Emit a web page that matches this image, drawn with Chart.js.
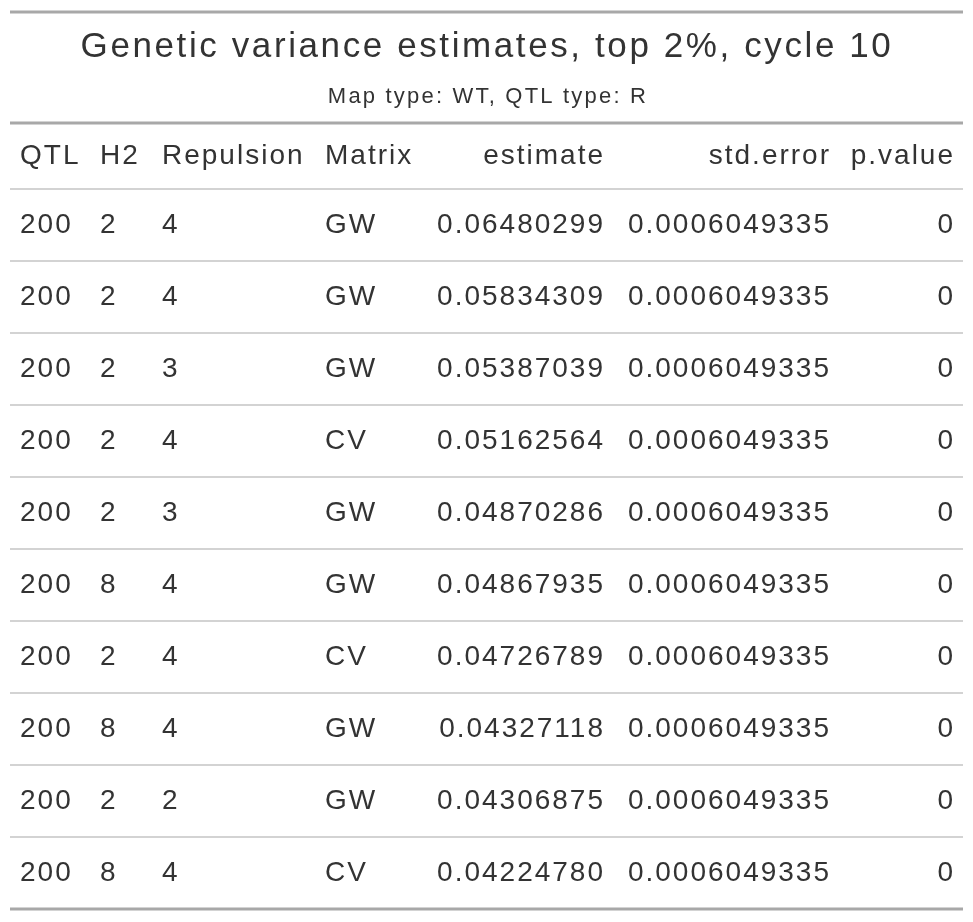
<!DOCTYPE html>
<html><head><meta charset="utf-8">
<script src="https://cdn.jsdelivr.net/npm/chart.js@4"></script>
<style>html,body{margin:0;background:#fff}#wrap{width:973px;height:922px}</style>
</head><body><div id="wrap"><canvas id="tbl"></canvas></div>
<script>
const title = "Genetic variance estimates, top 2%, cycle 10";
const subtitle = "Map type: WT, QTL type: R";
const columns = ["QTL", "H2", "Repulsion", "Matrix", "estimate", "std.error", "p.value"];
const qtl = [200, 200, 200, 200, 200, 200, 200, 200, 200, 200];
const h2 = [2, 2, 2, 2, 2, 8, 2, 8, 2, 8];
const repulsion = [4, 4, 3, 4, 3, 4, 4, 4, 2, 4];
const matrix = ["GW", "GW", "GW", "CV", "GW", "GW", "CV", "GW", "GW", "CV"];
const estimate = ["0.06480299", "0.05834309", "0.05387039", "0.05162564", "0.04870286",
  "0.04867935", "0.04726789", "0.04327118", "0.04306875", "0.04224780"];
const stdError = ["0.0006049335", "0.0006049335", "0.0006049335", "0.0006049335", "0.0006049335",
  "0.0006049335", "0.0006049335", "0.0006049335", "0.0006049335", "0.0006049335"];
const pValue = [0, 0, 0, 0, 0, 0, 0, 0, 0, 0];

// column anchors (x) and alignment
const colX = [20, 100, 162, 325, 605, 831, 955];
const colAlign = ["left", "left", "left", "left", "right", "right", "right"];
const font = '"Liberation Sans", Arial, sans-serif';

const tablePlugin = {
  id: "tablePlugin",
  afterDraw(chart) {
    const c = chart.ctx, xs = chart.scales.x, ys = chart.scales.y;
    const X = v => xs.getPixelForValue(v), Y = v => ys.getPixelForValue(v);
    const hline = (y, w, col) => {
      c.strokeStyle = col; c.lineWidth = w;
      c.beginPath(); c.moveTo(X(10), Y(y)); c.lineTo(X(963), Y(y)); c.stroke();
    };
    c.save();
    c.fillStyle = "#333"; c.textBaseline = "middle";
    hline(12, 3, "#a8a8a8");
    c.textAlign = "center";
    c.font = "35px " + font; c.letterSpacing = "2.6px"; c.fillText(title, X(487), Y(47));
    c.font = "22px " + font; c.letterSpacing = "2.2px"; c.fillText(subtitle, X(488), Y(97));
    hline(123, 3, "#a8a8a8");
    c.font = "28px " + font; c.letterSpacing = "2px";
    columns.forEach((h, j) => { c.textAlign = colAlign[j]; c.fillText(h, X(colX[j]), Y(156)); });
    hline(189, 2, "#d3d3d3");
    const rows = qtl.map((q, i) => [q, h2[i], repulsion[i], matrix[i], estimate[i], stdError[i], pValue[i]]);
    rows.forEach((r, i) => {
      const y = 225 + i * 72;
      r.forEach((v, j) => { c.textAlign = colAlign[j]; c.fillText(String(v), X(colX[j]), Y(y)); });
      if (i < rows.length - 1) hline(y + 36, 2, "#d3d3d3");
    });
    hline(909, 3, "#a8a8a8");
    c.restore();
  }
};

new Chart(document.getElementById("tbl"), {
  type: "scatter",
  data: { datasets: [{ data: [] }] },
  options: {
    responsive: true, maintainAspectRatio: false, animation: false,
    layout: { padding: 0 },
    plugins: { legend: { display: false }, tooltip: { enabled: false } },
    scales: {
      x: { type: "linear", min: 0, max: 973, display: false },
      y: { type: "linear", min: 0, max: 922, reverse: true, display: false }
    }
  },
  plugins: [tablePlugin]
});
</script></body></html>
